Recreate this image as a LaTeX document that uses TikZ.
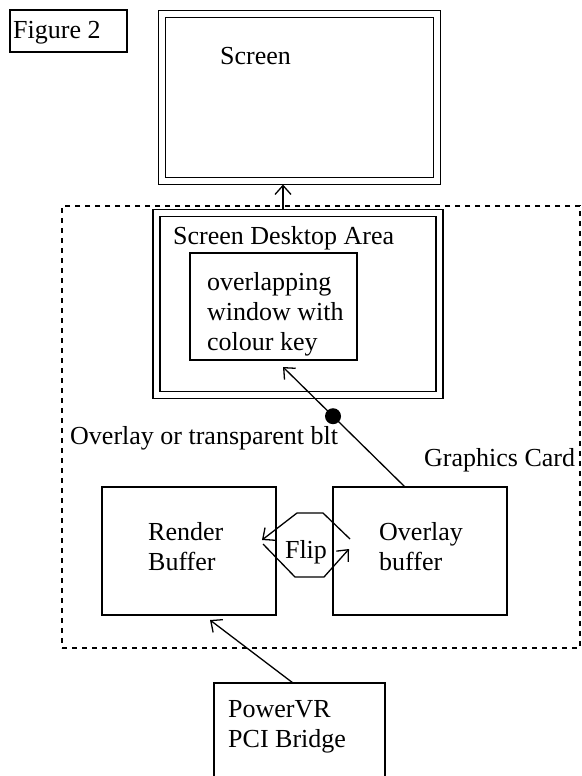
\documentclass[tikz,border=0pt]{standalone}
\usepackage{fontspec}
\setmainfont{Liberation Serif}
\usetikzlibrary{arrows.meta}

\tikzset{
	box/.style={draw, line width=1.5pt, inner sep=0pt, outer sep=0pt},
	dblbox/.style={box, double, double distance=5.5pt},
	dashbox/.style={draw, line width=2.2pt, dash pattern=on 5pt off 5pt, inner sep=0pt, outer sep=0pt},
	lbl/.style={inner sep=0pt, anchor=base west, font=\fontsize{26}{30}\selectfont},
	mlbl/.style={inner sep=0pt, anchor=north west, align=left, font=\fontsize{26}{30}\selectfont},
	arr/.style={line width=1.3pt, -{Straight Barb[length=9pt,width=16pt]}},
	dot/.style={circle, fill, inner sep=0pt, minimum size=16pt},
}

\begin{document}
\begin{tikzpicture}[x=1pt,y=-1pt]
	\clip (0,0) rectangle (581,776);
	% figure tag and screen
	\node[box, minimum width=117pt, minimum height=42pt] (figbox) at (68.5,31) {};
	\node[lbl] (figtext) at (13,39) {Figure 2};
	\node[dblbox, minimum width=275pt, minimum height=167pt] (screen) at (299.5,97.5) {};
	\node[lbl] (screentext) at (220,64) {Screen};
	% graphics card
	\node[dashbox, minimum width=518pt, minimum height=442pt] (card) at (321,427) {};
	\node[lbl] (cardtext) at (424,466) {Graphics Card};
	\node[dblbox, minimum width=283pt, minimum height=182pt] (desktop) at (298,304) {};
	\node[lbl] (desktoptext) at (173,244) {Screen Desktop Area};
	\node[box, minimum width=167pt, minimum height=107pt] (window) at (273.5,306.5) {};
	\node[mlbl] (windowtext) at (207,272) {overlapping\\window with\\colour key};
	\node[lbl] (blttext) at (70,444) {Overlay or transparent blt};
	\node[box, minimum width=174pt, minimum height=128pt] (render) at (189,551) {};
	\node[mlbl] (rendertext) at (148,522) {Render\\Buffer};
	\node[box, minimum width=174pt, minimum height=128pt] (overlay) at (420,551) {};
	\node[mlbl] (overlaytext) at (379,522) {Overlay\\buffer};
	\node[lbl, anchor=base] (flip) at (306,558) {Flip};
	% bridge
	\node[box, minimum width=171pt, minimum height=117pt] (bridge) at (299.5,741.5) {};
	\node[mlbl] (bridgetext) at (228,700) {PowerVR\\PCI Bridge};

	\draw[arr] ([xshift=-15pt,yshift=3.5pt]desktop.north) -- ([xshift=-16.5pt,yshift=-3.5pt]screen.south);
	\draw[arr] ([xshift=-15pt]overlay.north) -- node[dot, pos=0.59] (key) {} ([xshift=9.5pt,yshift=-7pt]window.south);
	\draw[arr] ([xshift=-6.5pt]bridge.north) -- ([xshift=21pt,yshift=-5pt]render.south);
	\draw[arr, shift={(flip.base)}] (44,-19) -- (17,-45) -- (-9,-45) -- (-44,-18);
	\draw[arr, shift={(flip.base)}] (-43,-14) -- (-11,19) -- (18,19) -- (43,-9);
\end{tikzpicture}
\end{document}
